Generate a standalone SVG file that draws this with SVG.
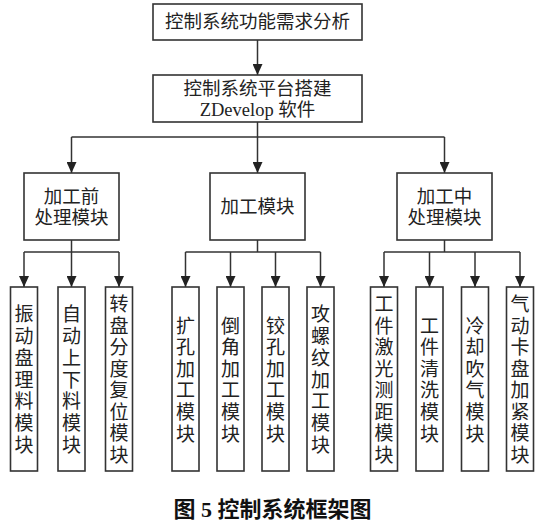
<svg xmlns="http://www.w3.org/2000/svg" width="536" height="523" viewBox="0 0 536 523">
<defs>
<marker id="ah" markerUnits="userSpaceOnUse" markerWidth="12" markerHeight="10" refX="11" refY="5" orient="auto" viewBox="0 0 12 10">
<path d="M0,0 L11,5 L0,10 Z" fill="#222"/>
</marker>
</defs>
<style>
.box{fill:#fff;stroke:#333;stroke-width:1.6}
.t{font-family:"Liberation Serif","Noto Sans CJK SC",serif;font-size:18.5px;fill:#222;text-anchor:middle;dominant-baseline:central}
.v{font-family:"Liberation Serif","Noto Sans CJK SC",serif;font-size:19px;fill:#222;text-anchor:middle;dominant-baseline:central}
.c{fill:none;stroke:#333;stroke-width:1.5}
.cap{font-family:"Liberation Serif","Noto Sans CJK SC",serif;font-size:22px;font-weight:bold;fill:#111;text-anchor:middle;dominant-baseline:central}
</style>
<rect width="536" height="523" fill="#fff"/>
<g id="connectors">
<line class="c" x1="257.5" y1="40" x2="257.5" y2="75" marker-end="url(#ah)"/>
<line class="c" x1="257.5" y1="122" x2="257.5" y2="137"/>
<line class="c" x1="71.5" y1="137" x2="444.5" y2="137"/>
<line class="c" x1="71.5" y1="137" x2="71.5" y2="173" marker-end="url(#ah)"/>
<line class="c" x1="257.5" y1="137" x2="257.5" y2="173" marker-end="url(#ah)"/>
<line class="c" x1="444.5" y1="137" x2="444.5" y2="173" marker-end="url(#ah)"/>
<line class="c" x1="71.5" y1="240" x2="71.5" y2="252"/>
<line class="c" x1="24" y1="252" x2="119" y2="252"/>
<line class="c" x1="24" y1="252" x2="24" y2="287" marker-end="url(#ah)"/>
<line class="c" x1="71.5" y1="252" x2="71.5" y2="287" marker-end="url(#ah)"/>
<line class="c" x1="119" y1="252" x2="119" y2="287" marker-end="url(#ah)"/>
<line class="c" x1="257.5" y1="240" x2="257.5" y2="252"/>
<line class="c" x1="185.5" y1="252" x2="320.5" y2="252"/>
<line class="c" x1="185.5" y1="252" x2="185.5" y2="287" marker-end="url(#ah)"/>
<line class="c" x1="230.5" y1="252" x2="230.5" y2="287" marker-end="url(#ah)"/>
<line class="c" x1="275.5" y1="252" x2="275.5" y2="287" marker-end="url(#ah)"/>
<line class="c" x1="320.5" y1="252" x2="320.5" y2="287" marker-end="url(#ah)"/>
<line class="c" x1="444.5" y1="240" x2="444.5" y2="252"/>
<line class="c" x1="384" y1="252" x2="520" y2="252"/>
<line class="c" x1="384" y1="252" x2="384" y2="287" marker-end="url(#ah)"/>
<line class="c" x1="429.5" y1="252" x2="429.5" y2="287" marker-end="url(#ah)"/>
<line class="c" x1="475" y1="252" x2="475" y2="287" marker-end="url(#ah)"/>
<line class="c" x1="520" y1="252" x2="520" y2="287" marker-end="url(#ah)"/>
</g>
<g id="n-req">
<rect class="box" x="153" y="4" width="209" height="36"/>
<text class="t" x="257.5" y="22" font-size="19">控制系统功能需求分析</text>
</g>
<g id="n-platform">
<rect class="box" x="153" y="75" width="209" height="47"/>
<text class="t" x="257.5" y="89">控制系统平台搭建</text>
<text class="t" x="257.5" y="110">ZDevelop 软件</text>
</g>
<g id="n-pre">
<rect class="box" x="24" y="173" width="95" height="67"/>
<text class="t" x="71.5" y="197">加工前</text>
<text class="t" x="71.5" y="218">处理模块</text>
</g>
<g id="n-proc">
<rect class="box" x="210" y="173" width="95" height="67"/>
<text class="t" x="257.5" y="207">加工模块</text>
</g>
<g id="n-mid">
<rect class="box" x="397" y="173" width="95" height="67"/>
<text class="t" x="444.5" y="197">加工中</text>
<text class="t" x="444.5" y="218">处理模块</text>
</g>
<g id="n-l1">
<rect class="box" x="10.5" y="287" width="27" height="184"/>
<text class="v"><tspan x="24" y="314.4">振</tspan><tspan x="24" y="336.1">动</tspan><tspan x="24" y="357.8">盘</tspan><tspan x="24" y="379.5">理</tspan><tspan x="24" y="401.2">料</tspan><tspan x="24" y="422.9">模</tspan><tspan x="24" y="444.6">块</tspan></text>
</g>
<g id="n-l2">
<rect class="box" x="58" y="287" width="27" height="184"/>
<text class="v"><tspan x="71.5" y="314.4">自</tspan><tspan x="71.5" y="336.1">动</tspan><tspan x="71.5" y="357.8">上</tspan><tspan x="71.5" y="379.5">下</tspan><tspan x="71.5" y="401.2">料</tspan><tspan x="71.5" y="422.9">模</tspan><tspan x="71.5" y="444.6">块</tspan></text>
</g>
<g id="n-l3">
<rect class="box" x="105.5" y="287" width="27" height="184"/>
<text class="v"><tspan x="119" y="304.3">转</tspan><tspan x="119" y="325.8">盘</tspan><tspan x="119" y="347.3">分</tspan><tspan x="119" y="368.8">度</tspan><tspan x="119" y="390.3">复</tspan><tspan x="119" y="411.8">位</tspan><tspan x="119" y="433.3">模</tspan><tspan x="119" y="454.8">块</tspan></text>
</g>
<g id="n-m1">
<rect class="box" x="172" y="287" width="27" height="184"/>
<text class="v"><tspan x="185.5" y="325.5">扩</tspan><tspan x="185.5" y="347.1">孔</tspan><tspan x="185.5" y="368.7">加</tspan><tspan x="185.5" y="390.3">工</tspan><tspan x="185.5" y="411.9">模</tspan><tspan x="185.5" y="433.5">块</tspan></text>
</g>
<g id="n-m2">
<rect class="box" x="217" y="287" width="27" height="184"/>
<text class="v"><tspan x="230.5" y="325.5">倒</tspan><tspan x="230.5" y="347.1">角</tspan><tspan x="230.5" y="368.7">加</tspan><tspan x="230.5" y="390.3">工</tspan><tspan x="230.5" y="411.9">模</tspan><tspan x="230.5" y="433.5">块</tspan></text>
</g>
<g id="n-m3">
<rect class="box" x="262" y="287" width="27" height="184"/>
<text class="v"><tspan x="275.5" y="325.5">铰</tspan><tspan x="275.5" y="347.1">孔</tspan><tspan x="275.5" y="368.7">加</tspan><tspan x="275.5" y="390.3">工</tspan><tspan x="275.5" y="411.9">模</tspan><tspan x="275.5" y="433.5">块</tspan></text>
</g>
<g id="n-m4">
<rect class="box" x="307" y="287" width="27" height="184"/>
<text class="v"><tspan x="320.5" y="314.4">攻</tspan><tspan x="320.5" y="336.1">螺</tspan><tspan x="320.5" y="357.8">纹</tspan><tspan x="320.5" y="379.5">加</tspan><tspan x="320.5" y="401.2">工</tspan><tspan x="320.5" y="422.9">模</tspan><tspan x="320.5" y="444.6">块</tspan></text>
</g>
<g id="n-r1">
<rect class="box" x="370.5" y="287" width="27" height="184"/>
<text class="v"><tspan x="384" y="304.3">工</tspan><tspan x="384" y="325.8">件</tspan><tspan x="384" y="347.3">激</tspan><tspan x="384" y="368.8">光</tspan><tspan x="384" y="390.3">测</tspan><tspan x="384" y="411.8">距</tspan><tspan x="384" y="433.3">模</tspan><tspan x="384" y="454.8">块</tspan></text>
</g>
<g id="n-r2">
<rect class="box" x="416" y="287" width="27" height="184"/>
<text class="v"><tspan x="429.5" y="325.5">工</tspan><tspan x="429.5" y="347.1">件</tspan><tspan x="429.5" y="368.7">清</tspan><tspan x="429.5" y="390.3">洗</tspan><tspan x="429.5" y="411.9">模</tspan><tspan x="429.5" y="433.5">块</tspan></text>
</g>
<g id="n-r3">
<rect class="box" x="461.5" y="287" width="27" height="184"/>
<text class="v"><tspan x="475" y="325.5">冷</tspan><tspan x="475" y="347.1">却</tspan><tspan x="475" y="368.7">吹</tspan><tspan x="475" y="390.3">气</tspan><tspan x="475" y="411.9">模</tspan><tspan x="475" y="433.5">块</tspan></text>
</g>
<g id="n-r4">
<rect class="box" x="506.5" y="287" width="27" height="184"/>
<text class="v"><tspan x="520" y="304.3">气</tspan><tspan x="520" y="325.8">动</tspan><tspan x="520" y="347.3">卡</tspan><tspan x="520" y="368.8">盘</tspan><tspan x="520" y="390.3">加</tspan><tspan x="520" y="411.8">紧</tspan><tspan x="520" y="433.3">模</tspan><tspan x="520" y="454.8">块</tspan></text>
</g>
<text class="cap" x="272.5" y="509">图 5 控制系统框架图</text>
</svg>
